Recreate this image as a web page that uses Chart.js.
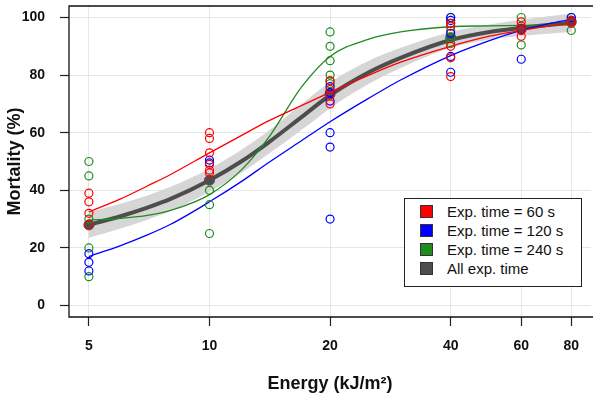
<!DOCTYPE html>
<html>
<head>
<meta charset="utf-8">
<script src="https://cdn.jsdelivr.net/npm/chart.js@4"></script>
<style>
    body { margin: 0; background: #fff; }
    #wrap { position: relative; width: 597px; height: 397px; }
    #legend {
        position: absolute; left: 404px; top: 198px; width: 176px; height: 87px;
        border: 1px solid #222; background: #fff;
        font-family: "Liberation Sans", Arial, sans-serif; font-size: 15px; color: #111;
    }
    #legend .row { position: absolute; left: 15px; height: 19px; line-height: 19px; white-space: nowrap; }
    #legend .sw { display: inline-block; width: 11px; height: 11px; border: 1px solid #333; vertical-align: -1px; margin-right: 14px; }
</style>
</head>
<body>
<div id="wrap">
    <canvas id="chart" width="597" height="397"></canvas>
    <div id="legend"></div>
</div>
<script>
// tick positions
const xTicks = [5, 10, 20, 40, 60, 80];
const yTicks = [0, 20, 40, 60, 80, 100];

// observed mortality per exposure time
const red60X = [5, 5, 5, 5, 10, 10, 10, 10, 10, 10, 20, 20, 20, 20, 40, 40, 40, 40, 40, 60, 60, 60, 60, 80, 80];
const red60Y = [39, 36, 32, 28, 60, 58, 53, 49, 47, 46, 78, 75, 73, 70, 98, 97, 90, 86, 79.5, 98.5, 97, 95.5, 93.5, 99, 98];
const blue120X = [5, 5, 5, 10, 10, 20, 20, 20, 20, 20, 20, 40, 40, 40, 40, 40, 60, 60, 80, 80];
const blue120Y = [18, 15, 12, 50.5, 49.5, 76, 74, 71, 60, 55, 30, 100, 99, 94.5, 86.5, 81, 96, 85.5, 100, 99];
const green240X = [5, 5, 5, 5, 5, 10, 10, 10, 20, 20, 20, 20, 20, 20, 40, 40, 40, 40, 40, 60, 60, 60, 80, 80];
const green240Y = [50, 45, 30, 20, 10, 40, 35, 25, 95, 90, 85, 80, 78, 77, 100, 98, 95.5, 93, 91, 100, 96, 90.5, 100, 95.5];

// fitted values for all exposure times
const allX = [5, 10, 20, 40, 60, 80];
const allY = [28, 43.5, 73.5, 93, 96, 98.5];

// fitted curves, read along the energy axis
const curveX = [5, 6, 7, 8, 10, 12, 14, 17, 20, 25, 30, 40, 50, 60, 70, 80];
const red60Fit = [32.5, 37, 41.5, 45.5, 53, 59, 64, 69.5, 74, 80, 84.5, 90, 93.5, 95.5, 97, 98];
const blue120Fit = [17, 20.8, 24.5, 28.2, 36, 43, 49.5, 57.3, 63.8, 72, 78.3, 86.8, 92, 95.5, 97.8, 99.3];
const green240Fit = [29.6, 30.3, 31.3, 33, 38.5, 47, 58, 76, 86.5, 92.5, 95, 96.8, 97.1, 97.3, 97.4, 97.5];
const allFit = [28, 31, 34, 37, 43.5, 50, 56.5, 65.5, 73, 81, 86, 92.2, 95, 96.4, 97.4, 98.2];
const bandLow = [23.5, 26.7, 29.8, 32.8, 39.5, 46, 52.5, 61, 68.5, 77, 82.5, 89.5, 92.4, 93.6, 94.4, 95];
const bandHigh = [32.5, 35.3, 38.2, 41.2, 47.5, 54, 60.5, 70, 77.5, 85, 89.5, 95, 97.6, 99.2, 100.4, 101.4];

const seriesLabels = ['Exp. time = 60 s', 'Exp. time = 120 s', 'Exp. time = 240 s', 'All exp. time'];
const seriesColors = ['#ff0000', '#0000ff', '#1e8c1e', '#4d4d4d'];

function pts(xs, ys) {
    return xs.map((x, i) => ({ x: x, y: ys[i] }));
}

function fitLine(ys, color, width, order) {
    return {
        type: 'line',
        data: pts(curveX, ys),
        borderColor: color,
        borderWidth: width,
        pointRadius: 0,
        cubicInterpolationMode: 'monotone',
        fill: false,
        order: order
    };
}

function scatterSet(xs, ys, color) {
    return {
        type: 'scatter',
        data: pts(xs, ys),
        borderColor: color,
        backgroundColor: 'rgba(0,0,0,0)',
        borderWidth: 1.2,
        pointRadius: 4,
        order: 0
    };
}

// frame on left, top and bottom (right side is cut off)
const framePlugin = {
    id: 'frame',
    afterDraw(chart) {
        const a = chart.chartArea;
        const ctx = chart.ctx;
        ctx.save();
        ctx.strokeStyle = '#111';
        ctx.lineWidth = 1.3;
        ctx.beginPath();
        ctx.moveTo(a.right + 2, a.top);
        ctx.lineTo(a.left, a.top);
        ctx.lineTo(a.left, a.bottom);
        ctx.lineTo(a.right + 2, a.bottom);
        ctx.stroke();
        ctx.restore();
    }
};

const ctx = document.getElementById('chart').getContext('2d');
new Chart(ctx, {
    data: {
        datasets: [
            { type: 'line', data: pts(curveX, bandLow), borderWidth: 0, pointRadius: 0, cubicInterpolationMode: 'monotone', fill: false, order: 5 },
            { type: 'line', data: pts(curveX, bandHigh), borderWidth: 0, pointRadius: 0, cubicInterpolationMode: 'monotone', fill: '-1', backgroundColor: '#d6d6d6', order: 4 },
            fitLine(allFit, seriesColors[3], 4, 3),
            fitLine(red60Fit, seriesColors[0], 1.3, 2),
            fitLine(blue120Fit, seriesColors[1], 1.3, 2),
            fitLine(green240Fit, seriesColors[2], 1.3, 2),
            { type: 'scatter', data: pts(allX, allY), backgroundColor: seriesColors[3], borderColor: seriesColors[3], pointRadius: 5, order: 1 },
            scatterSet(red60X, red60Y, seriesColors[0]),
            scatterSet(blue120X, blue120Y, seriesColors[1]),
            scatterSet(green240X, green240Y, seriesColors[2])
        ]
    },
    options: {
        responsive: false,
        animation: false,
        layout: { padding: { top: 1, right: 0, left: 0, bottom: 0 } },
        plugins: { legend: { display: false }, tooltip: { enabled: false } },
        scales: {
            x: {
                type: 'logarithmic',
                min: 4.46,
                max: 89.6,
                afterBuildTicks: s => { s.ticks = xTicks.map(v => ({ value: v })); },
                afterFit: s => { s.height = 80; s.paddingLeft = 0; s.paddingRight = 0; },
                border: { display: false },
                grid: { color: '#e6e6e6', lineWidth: 1, tickLength: 9, tickColor: '#222', tickWidth: 1.2 },
                ticks: {
                    autoSkip: false, maxRotation: 0, padding: 12, color: '#111',
                    font: { family: '"Liberation Sans", Arial, sans-serif', size: 14, weight: 'bold' },
                    callback: v => String(v)
                },
                title: {
                    display: true, text: 'Energy (kJ/m²)', color: '#111',
                    padding: { top: 0, bottom: 2 },
                    font: { family: '"Liberation Sans", Arial, sans-serif', size: 18, weight: 'bold' }
                }
            },
            y: {
                min: -4,
                max: 104,
                afterBuildTicks: s => { s.ticks = yTicks.map(v => ({ value: v })); },
                afterFit: s => { s.width = 69; s.paddingTop = 0; s.paddingBottom = 0; },
                border: { display: false },
                grid: { color: '#e6e6e6', lineWidth: 1, tickLength: 9, tickColor: '#222', tickWidth: 1.2 },
                ticks: {
                    padding: 15, color: '#111',
                    font: { family: '"Liberation Sans", Arial, sans-serif', size: 14, weight: 'bold' }
                },
                title: {
                    display: true, text: 'Mortality (%)', color: '#111',
                    padding: { top: 4, bottom: 0 },
                    font: { family: '"Liberation Sans", Arial, sans-serif', size: 18, weight: 'bold' }
                }
            }
        }
    },
    plugins: [framePlugin]
});

// legend inside the plot
const legend = document.getElementById('legend');
seriesLabels.forEach((label, i) => {
    const row = document.createElement('div');
    row.className = 'row';
    row.style.top = (3 + i * 19) + 'px';
    row.innerHTML = '<span class="sw" style="background:' + seriesColors[i] + '"></span>' + label;
    legend.appendChild(row);
});
</script>
</body>
</html>
